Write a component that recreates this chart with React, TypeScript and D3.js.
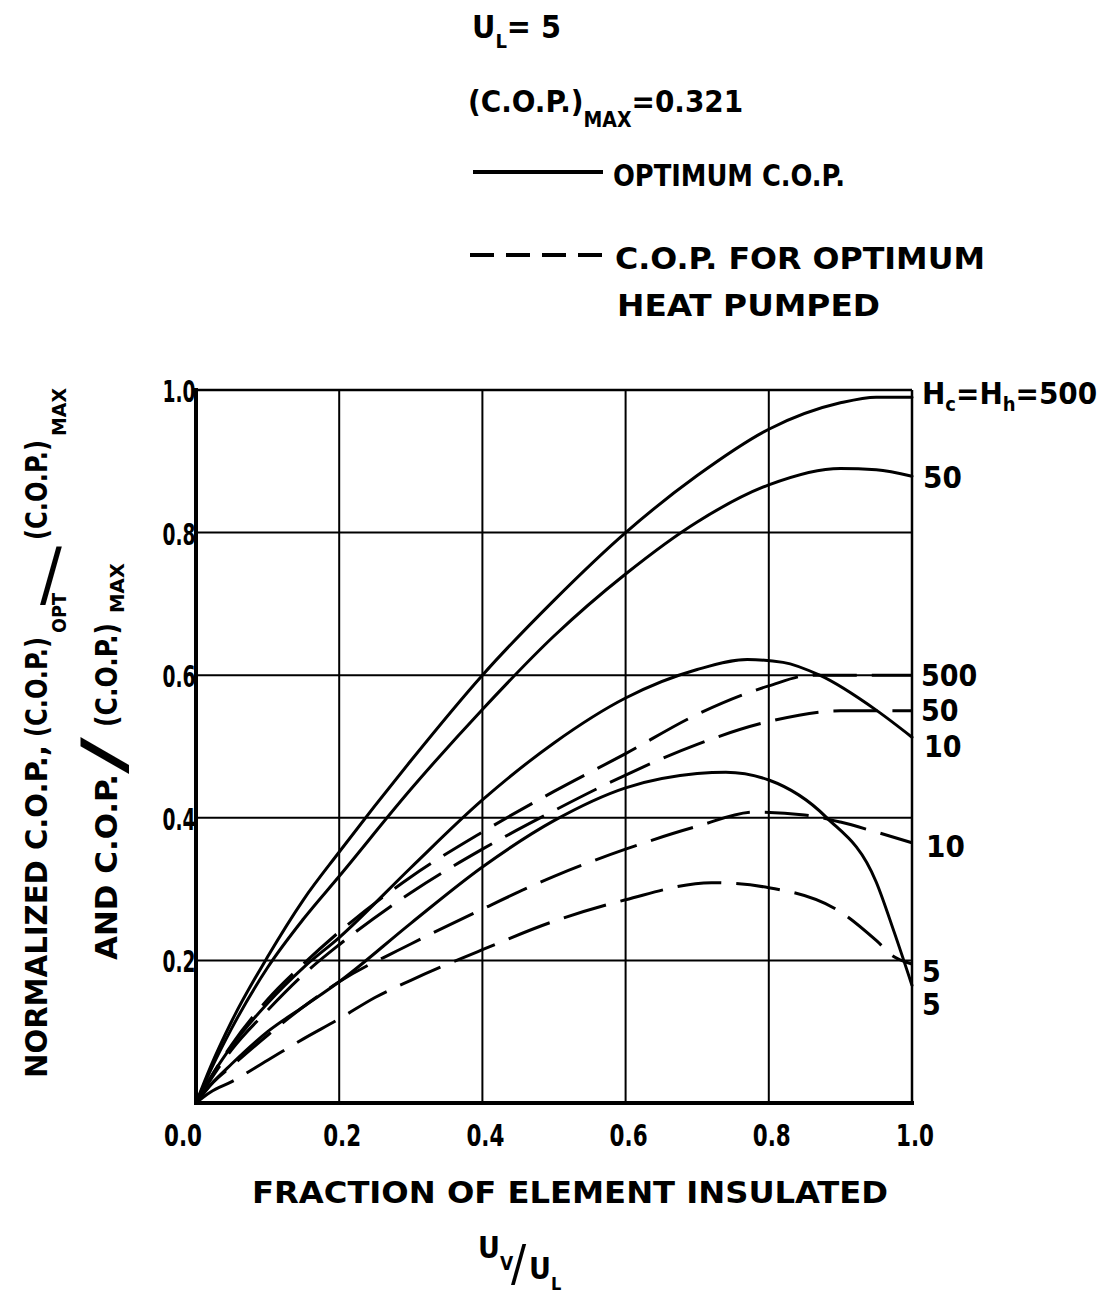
import React from 'react';
import * as d3 from 'd3';

const W = 1107;
const H = 1295;

const xTicks = [0, 0.2, 0.4, 0.6, 0.8, 1.0];
const xTickLabels = ['0.0', '0.2', '0.4', '0.6', '0.8', '1.0'];
const yTicks = [0.2, 0.4, 0.6, 0.8, 1.0];
const yTickLabels = ['0.2', '0.4', '0.6', '0.8', '1.0'];

// Optimum C.O.P. (solid)
const optimum500: [number, number][] = [
  [0, 0], [0.02, 0.05], [0.05, 0.115], [0.1, 0.205], [0.15, 0.285], [0.2, 0.352], [0.3, 0.48],
  [0.4, 0.6], [0.5, 0.705], [0.6, 0.8], [0.7, 0.88], [0.8, 0.945], [0.9, 0.982], [0.95, 0.99], [1.0, 0.99],
];
const optimum50: [number, number][] = [
  [0, 0], [0.02, 0.045], [0.05, 0.105], [0.1, 0.19], [0.15, 0.258], [0.2, 0.318], [0.3, 0.44],
  [0.4, 0.552], [0.5, 0.655], [0.6, 0.742], [0.7, 0.815], [0.8, 0.867], [0.9, 0.89], [0.95, 0.888], [1.0, 0.879],
];
const optimum10: [number, number][] = [
  [0, 0], [0.02, 0.035], [0.05, 0.08], [0.1, 0.14], [0.15, 0.19], [0.2, 0.232], [0.3, 0.33],
  [0.4, 0.425], [0.5, 0.505], [0.6, 0.568], [0.7, 0.608], [0.77, 0.622], [0.82, 0.618], [0.871, 0.6],
  [0.95, 0.551], [1.0, 0.513],
];
const optimum5: [number, number][] = [
  [0, 0], [0.02, 0.025], [0.05, 0.055], [0.1, 0.1], [0.15, 0.135], [0.2, 0.17], [0.3, 0.252],
  [0.4, 0.331], [0.5, 0.396], [0.6, 0.442], [0.7, 0.462], [0.74, 0.464], [0.8, 0.453], [0.88, 0.401],
  [0.95, 0.31], [0.975, 0.24], [1.0, 0.165],
];

// C.O.P. for optimum heat pumped (dashed)
const heatPumped500: [number, number][] = [
  [0, 0], [0.02, 0.035], [0.05, 0.082], [0.1, 0.145], [0.15, 0.195], [0.2, 0.24], [0.26, 0.288],
  [0.3, 0.317], [0.4, 0.38], [0.5, 0.437], [0.6, 0.49], [0.7, 0.545], [0.8, 0.585], [0.86, 0.6],
  [0.93, 0.6], [1.0, 0.6],
];
const heatPumped50: [number, number][] = [
  [0, 0], [0.02, 0.032], [0.05, 0.075], [0.1, 0.13], [0.15, 0.18], [0.2, 0.222], [0.3, 0.295],
  [0.4, 0.356], [0.5, 0.41], [0.6, 0.46], [0.7, 0.503], [0.8, 0.535], [0.9, 0.55], [1.0, 0.55],
];
const heatPumped10: [number, number][] = [
  [0, 0], [0.02, 0.025], [0.05, 0.052], [0.1, 0.095], [0.15, 0.135], [0.2, 0.17], [0.3, 0.223],
  [0.4, 0.272], [0.5, 0.318], [0.6, 0.356], [0.7, 0.388], [0.78, 0.408], [0.85, 0.404], [0.9, 0.394],
  [0.95, 0.38], [1.0, 0.365],
];
const heatPumped5: [number, number][] = [
  [0, 0], [0.02, 0.015], [0.05, 0.03], [0.1, 0.06], [0.15, 0.09], [0.2, 0.118], [0.25, 0.148],
  [0.3, 0.172], [0.4, 0.215], [0.5, 0.255], [0.6, 0.285], [0.72, 0.309], [0.8, 0.302], [0.9, 0.268],
  [0.95, 0.228], [0.975, 0.205], [1.0, 0.195],
];

const FONT = "'DejaVu Sans Condensed', 'DejaVu Sans', sans-serif";

export default function App() {
  const left = 196, right = 912, top = 390, bottom = 1103;
  const x = d3.scaleLinear().domain([0, 1]).range([left, right]);
  const y = d3.scaleLinear().domain([0, 1]).range([bottom, top]);
  const line = d3.line<[number, number]>()
    .x((d) => x(d[0]))
    .y((d) => y(d[1]))
    .curve(d3.curveMonotoneX);

  const solids = [optimum500, optimum50, optimum10, optimum5];
  const dashes = [heatPumped500, heatPumped50, heatPumped10, heatPumped5];

  const t = { fontFamily: FONT, fontWeight: 'bold' as const, fill: '#000' };
  const thin = { fontFamily: FONT, fontWeight: 'normal' as const, fill: '#000' };
  const endY = (s: [number, number][]) => y(s[s.length - 1][1]);

  return (
    <svg width={W} height={H} viewBox={`0 0 ${W} ${H}`} style={{ display: 'block', background: '#fff', position: 'absolute', left: 0, top: 0 }}>
      <rect x={0} y={0} width={W} height={H} fill="#fff" />

      {/* grid */}
      {xTicks.slice(1, -1).map((v) => (
        <line key={'gx' + v} x1={x(v)} x2={x(v)} y1={top} y2={bottom} stroke="#000" strokeWidth={2} />
      ))}
      {yTicks.slice(0, -1).map((v) => (
        <line key={'gy' + v} x1={left} x2={right} y1={y(v)} y2={y(v)} stroke="#000" strokeWidth={2} />
      ))}
      {/* frame */}
      <line x1={left} x2={right} y1={top} y2={top} stroke="#000" strokeWidth={2.5} />
      <line x1={right} x2={right} y1={top} y2={bottom} stroke="#000" strokeWidth={2.5} />
      <line x1={left} x2={left} y1={top - 2} y2={bottom + 2} stroke="#000" strokeWidth={4} />
      <line x1={left - 2} x2={right + 2} y1={bottom} y2={bottom} stroke="#000" strokeWidth={4} />

      {/* curves */}
      {solids.map((s, i) => (
        <path key={'s' + i} d={line(s) || ''} fill="none" stroke="#000" strokeWidth={3} strokeLinecap="round" />
      ))}
      {dashes.map((s, i) => (
        <path key={'d' + i} d={line(s) || ''} fill="none" stroke="#000" strokeWidth={3} strokeDasharray="44 15" />
      ))}

      {/* x tick labels */}
      {xTicks.map((v, i) => (
        <text key={'xt' + v} x={i === 0 ? x(v) - 13 : x(v) + 3} y={1146} textAnchor="middle" fontSize={31}
          textLength={38} lengthAdjust="spacingAndGlyphs" {...t}>{xTickLabels[i]}</text>
      ))}
      {/* y tick labels */}
      {yTicks.map((v, i) => (
        <text key={'yt' + v} x={179} y={y(v) + 12} textAnchor="middle" fontSize={31}
          textLength={33} lengthAdjust="spacingAndGlyphs" {...t}>{yTickLabels[i]}</text>
      ))}

      {/* right-hand curve labels */}
      <text x={922} y={404} fontSize={31} {...t}>
        H<tspan fontSize={20} dy={7}>c</tspan><tspan dy={-7}>=H</tspan><tspan fontSize={20} dy={7}>h</tspan><tspan dy={-7}>=500</tspan>
      </text>
      <text x={923} y={endY(optimum50) + 12} fontSize={31} {...t}>50</text>
      <text x={921} y={endY(heatPumped500) + 11} fontSize={30} {...t}>500</text>
      <text x={921} y={endY(heatPumped50) + 10} fontSize={30} {...t}>50</text>
      <text x={924} y={endY(optimum10) + 20} fontSize={30} {...t}>10</text>
      <text x={926} y={endY(heatPumped10) + 14} fontSize={31} {...t}>10</text>
      <text x={922} y={endY(heatPumped5) + 18} fontSize={30} {...t}>5</text>
      <text x={922} y={endY(optimum5) + 30} fontSize={30} {...t}>5</text>

      {/* x axis titles */}
      <text x={252} y={1203} fontSize={31} textLength={636} lengthAdjust="spacingAndGlyphs" {...t}>
        FRACTION  OF ELEMENT  INSULATED
      </text>
      <text x={478} y={1258} fontSize={30} {...t}>U</text>
      <text x={500} y={1270} fontSize={19} {...t}>V</text>
      <text x={511} y={1280} fontSize={50} {...thin}>/</text>
      <text x={529} y={1279} fontSize={30} {...t}>U</text>
      <text x={551} y={1290} fontSize={18} {...t}>L</text>

      {/* y axis titles (rotated) */}
      <text transform="translate(47,1078) rotate(-90)" fontSize={31} textLength={333} lengthAdjust="spacingAndGlyphs" {...t}>
        NORMALIZED  C.O.P.,
      </text>
      <text transform="translate(47,737) rotate(-90)" fontSize={31} textLength={100} lengthAdjust="spacingAndGlyphs" {...t}>
        (C.O.P.)
      </text>
      <text transform="translate(66,633) rotate(-90)" fontSize={20} textLength={40} lengthAdjust="spacingAndGlyphs" {...t}>
        OPT
      </text>
      <text x={40} y={598} fontSize={72} {...thin}>/</text>
      <text transform="translate(47,540) rotate(-90)" fontSize={31} textLength={100} lengthAdjust="spacingAndGlyphs" {...t}>
        (C.O.P.)
      </text>
      <text transform="translate(66,436) rotate(-90)" fontSize={20} textLength={48} lengthAdjust="spacingAndGlyphs" {...t}>
        MAX
      </text>

      <text transform="translate(117,960) rotate(-90)" fontSize={31} textLength={186} lengthAdjust="spacingAndGlyphs" {...t}>
        AND  C.O.P.
      </text>
      <text transform="translate(124,774) rotate(-90) scale(2.1,1)" fontSize={58} {...thin}>/</text>
      <text transform="translate(117,727) rotate(-90)" fontSize={31} textLength={104} lengthAdjust="spacingAndGlyphs" {...t}>
        (C.O.P.)
      </text>
      <text transform="translate(124,613) rotate(-90)" fontSize={20} textLength={50} lengthAdjust="spacingAndGlyphs" {...t}>
        MAX
      </text>

      {/* header / legend */}
      <text x={472} y={38} fontSize={32} {...t}>
        U<tspan fontSize={20} dy={10}>L</tspan><tspan dy={-10}>= 5</tspan>
      </text>
      <text x={468} y={112} fontSize={31} {...t}>
        (C.O.P.)<tspan fontSize={21} dy={15}>MAX</tspan><tspan dy={-15}>=0.321</tspan>
      </text>
      <line x1={473} x2={603} y1={172} y2={172} stroke="#000" strokeWidth={4} />
      <text x={613} y={186} fontSize={31} textLength={232} lengthAdjust="spacingAndGlyphs" {...t}>OPTIMUM  C.O.P.</text>
      <line x1={470} x2={602} y1={255} y2={255} stroke="#000" strokeWidth={4} strokeDasharray="24 12" />
      <text x={615} y={269} fontSize={31} textLength={370} lengthAdjust="spacingAndGlyphs" {...t}>C.O.P.  FOR  OPTIMUM</text>
      <text x={617} y={316} fontSize={31} textLength={263} lengthAdjust="spacingAndGlyphs" {...t}>HEAT  PUMPED</text>
    </svg>
  );
}
